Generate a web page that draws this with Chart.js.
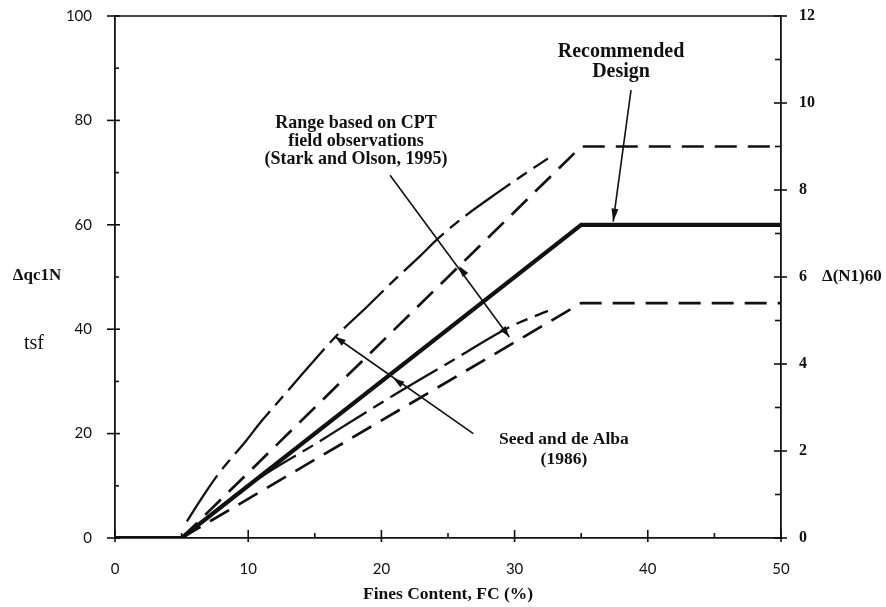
<!DOCTYPE html>
<html>
<head>
<meta charset="utf-8">
<script src="https://cdn.jsdelivr.net/npm/chart.js@4/dist/chart.umd.min.js"></script>
<style>
  html, body { margin: 0; padding: 0; background: #ffffff; }
  #wrap { width: 886px; height: 607px; }
</style>
</head>
<body>
<div id="wrap"><canvas id="c" width="886" height="607"></canvas></div>
<script>
// Tick values for the three axes
const fcTicks = [0, 10, 20, 30, 40, 50];
const qcTicks = [0, 20, 40, 60, 80, 100];
const n160Ticks = [0, 2, 4, 6, 8, 10, 12];

// Recommended design curve
const recFC = [0, 5, 35, 50];
const recQ = [0, 0, 60, 60];

// Stark and Olson (1995) range, upper and lower bounds
const starkUpperFC = [5, 35, 50];
const starkUpperQ = [0, 75, 75];
const starkLowerFC = [5, 35, 50];
const starkLowerQ = [0, 45, 45];

// Seed and de Alba (1986) curves
const seedUpperFC = [5.4, 6.5, 7.8, 8.6, 9.8, 11, 12.6, 14.6, 16.5, 19, 21, 22.9, 24.3, 26.4, 28.8, 30.5, 32.5];
const seedUpperQ = [3.2, 7.6, 12.4, 14.9, 18.5, 22.4, 27.1, 33, 38.4, 44.5, 49.5, 54, 57.5, 61.9, 66.3, 69.3, 72.7];
const seedLowerFC = [5.2, 7, 9, 11.5, 14.9, 18.1, 21.6, 25.4, 29.7, 32.5];
const seedLowerQ = [0.3, 4, 8.2, 12.6, 17.8, 22.9, 28.4, 34.1, 40.5, 43.5];

function pts(xs, ys) { return xs.map((x, i) => ({ x: x, y: ys[i] })); }

const serifBold = '"Liberation Serif", "Times New Roman", serif';

// Leader lines for the notes, in (FC, qc1N) units
const starkLeader = [[20.65, 69.5], [29.6, 38.5]];
const seedLeader = [[26.9, 20.0], [16.5, 38.6]];
const recLeader = [[38.74, 85.8], [37.4, 60.6]];

const notesPlugin = {
  id: 'notes',
  afterDraw(chart) {
    const ctx = chart.ctx;
    const xs = chart.scales.x, yl = chart.scales.y, yr = chart.scales.y2;
    const area = chart.chartArea;
    const px = v => xs.getPixelForValue(v);
    const py = v => yl.getPixelForValue(v);
    ctx.save();
    ctx.strokeStyle = '#111';
    ctx.fillStyle = '#111';
    ctx.lineCap = 'butt';

    // top frame line
    ctx.lineWidth = 1.6;
    ctx.beginPath();
    ctx.moveTo(area.left, area.top);
    ctx.lineTo(area.right, area.top);
    ctx.stroke();

    // left axis tick marks
    ctx.lineWidth = 1.6;
    for (let v = 0; v <= 100; v += 10) {
      const y = py(v);
      const major = v % 20 === 0;
      ctx.beginPath();
      ctx.moveTo(area.left - (major ? 8 : 0), y);
      ctx.lineTo(area.left + (major ? 5 : 4), y);
      ctx.stroke();
    }
    // bottom axis tick marks
    for (let v = 0; v <= 50; v += 5) {
      const x = px(v);
      const major = v % 10 === 0;
      ctx.beginPath();
      ctx.moveTo(x, area.bottom + (major ? 4 : 0));
      ctx.lineTo(x, area.bottom - (major ? 8 : 5));
      ctx.stroke();
    }
    // right axis tick marks
    for (let v = 0; v <= 12; v += 1) {
      const y = yr.getPixelForValue(v);
      const major = v % 2 === 0;
      ctx.beginPath();
      ctx.moveTo(area.right - (major ? 7 : 6), y);
      ctx.lineTo(area.right + (major ? 6 : 0), y);
      ctx.stroke();
    }

    function arrowHead(tipX, tipY, fromX, fromY, len, half) {
      const ang = Math.atan2(tipY - fromY, tipX - fromX);
      ctx.beginPath();
      ctx.moveTo(tipX, tipY);
      ctx.lineTo(tipX - len * Math.cos(ang) + half * Math.sin(ang), tipY - len * Math.sin(ang) - half * Math.cos(ang));
      ctx.lineTo(tipX - len * Math.cos(ang) - half * Math.sin(ang), tipY - len * Math.sin(ang) + half * Math.cos(ang));
      ctx.closePath();
      ctx.fill();
    }
    function leader(seg) {
      ctx.beginPath();
      ctx.moveTo(px(seg[0][0]), py(seg[0][1]));
      ctx.lineTo(px(seg[1][0]), py(seg[1][1]));
      ctx.stroke();
    }

    ctx.lineWidth = 1.6;
    // Stark and Olson leader with two heads
    leader(starkLeader);
    {
      const ax = px(starkLeader[0][0]), ay = py(starkLeader[0][1]);
      const bx = px(starkLeader[1][0]), by = py(starkLeader[1][1]);
      const tx = px(25.83), ty = py(52.1);
      arrowHead(tx, ty, bx, by, 11, 3.5);
      arrowHead(bx, by, ax, ay, 11, 3.5);
    }
    // Seed and de Alba leader with two heads
    leader(seedLeader);
    {
      const ax = px(seedLeader[0][0]), ay = py(seedLeader[0][1]);
      const bx = px(seedLeader[1][0]), by = py(seedLeader[1][1]);
      arrowHead(bx, by, ax, ay, 11, 3.5);
      arrowHead(px(20.9), py(30.6), ax, ay, 11, 3.5);
    }
    // Recommended design leader
    leader(recLeader);
    arrowHead(px(recLeader[1][0]), py(recLeader[1][1]), px(recLeader[0][0]), py(recLeader[0][1]), 13, 3.5);

    // notes
    ctx.textAlign = 'center';
    ctx.textBaseline = 'middle';
    ctx.font = 'bold 20px ' + serifBold;
    ctx.fillText('Recommended', px(37.99), py(93.2));
    ctx.fillText('Design', px(37.99), py(89.3));

    ctx.font = 'bold 18px ' + serifBold;
    ctx.fillText('Range based on CPT', px(18.1), py(79.5));
    ctx.fillText('field observations', px(18.1), py(75.9));
    ctx.fillText('(Stark and Olson, 1995)', px(18.1), py(72.5));

    ctx.font = 'bold 17.5px ' + serifBold;
    ctx.fillText('Seed and de Alba', px(33.7), py(18.8));
    ctx.fillText('(1986)', px(33.7), py(15.1));

    // axis titles
    ctx.font = 'bold 17.5px ' + serifBold;
    ctx.fillText('Fines Content, FC (%)', (area.left + area.right) / 2, 594);
    ctx.font = 'bold 17px ' + serifBold;
    ctx.fillText('\u0394qc1N', 37, 276);
    ctx.font = '20px ' + serifBold;
    ctx.fillText('tsf', 34, 344);
    ctx.textAlign = 'left';
    ctx.font = 'bold 17px ' + serifBold;
    ctx.fillText('\u0394(N1)60', 822, 277);

    ctx.restore();
  }
};

// keep label overflow from pushing the plot frame inward
function fixVertical(width) {
  return function (s) {
    s.width = width;
    s.paddingTop = 0;
    s.paddingBottom = 0;
  };
}

const ctx = document.getElementById('c').getContext('2d');
new Chart(ctx, {
  type: 'scatter',
  data: {
    datasets: [
      { label: 'Recommended Design', data: pts(recFC, recQ), showLine: true, borderColor: '#111', borderWidth: 4.2, pointRadius: 0, tension: 0 },
      { label: 'Stark and Olson upper', data: pts(starkUpperFC, starkUpperQ), showLine: true, borderColor: '#111', borderWidth: 2.7, borderDash: [22, 11], pointRadius: 0 },
      { label: 'Stark and Olson lower', data: pts(starkLowerFC, starkLowerQ), showLine: true, borderColor: '#111', borderWidth: 2.7, borderDash: [22, 11], pointRadius: 0 },
      { label: 'Seed and de Alba upper', data: pts(seedUpperFC, seedUpperQ), showLine: true, borderColor: '#111', borderWidth: 2.3, borderDash: [55, 8, 12, 8], pointRadius: 0, tension: 0.3, cubicInterpolationMode: 'monotone' },
      { label: 'Seed and de Alba lower', data: pts(seedLowerFC, seedLowerQ), showLine: true, borderColor: '#111', borderWidth: 2.3, borderDash: [55, 8, 12, 8], pointRadius: 0, tension: 0.3, cubicInterpolationMode: 'monotone' }
    ]
  },
  options: {
    responsive: false,
    devicePixelRatio: 1,
    animation: false,
    layout: { padding: { top: 16, left: 0, right: 0, bottom: 0 } },
    plugins: { legend: { display: false }, tooltip: { enabled: false } },
    scales: {
      x: {
        type: 'linear', min: 0, max: 50,
        afterFit(s) { s.height = 607 - 538; s.paddingLeft = 0; s.paddingRight = 0; },
        afterBuildTicks(s) { s.ticks = fcTicks.map(v => ({ value: v })); },
        grid: { display: false, drawTicks: false },
        border: { display: true, color: '#111', width: 1.8 },
        ticks: { font: { family: 'Lato', size: 15 }, color: '#111', padding: 22, maxRotation: 0 }
      },
      y: {
        type: 'linear', position: 'left', min: 0, max: 100,
        afterFit: fixVertical(115),
        afterBuildTicks(s) { s.ticks = qcTicks.map(v => ({ value: v })); },
        grid: { display: false, drawTicks: false },
        border: { display: true, color: '#111', width: 1.8 },
        ticks: { font: { family: 'Lato', size: 15 }, color: '#111', padding: 23 }
      },
      y2: {
        type: 'linear', position: 'right', min: 0, max: 12,
        afterFit: fixVertical(886 - 781),
        afterBuildTicks(s) { s.ticks = n160Ticks.map(v => ({ value: v })); },
        grid: { display: false, drawTicks: false },
        border: { display: true, color: '#111', width: 1.8 },
        ticks: { font: { family: serifBold, size: 16, weight: 'bold' }, color: '#111', padding: 18 }
      }
    }
  },
  plugins: [notesPlugin]
});
</script>
</body>
</html>
